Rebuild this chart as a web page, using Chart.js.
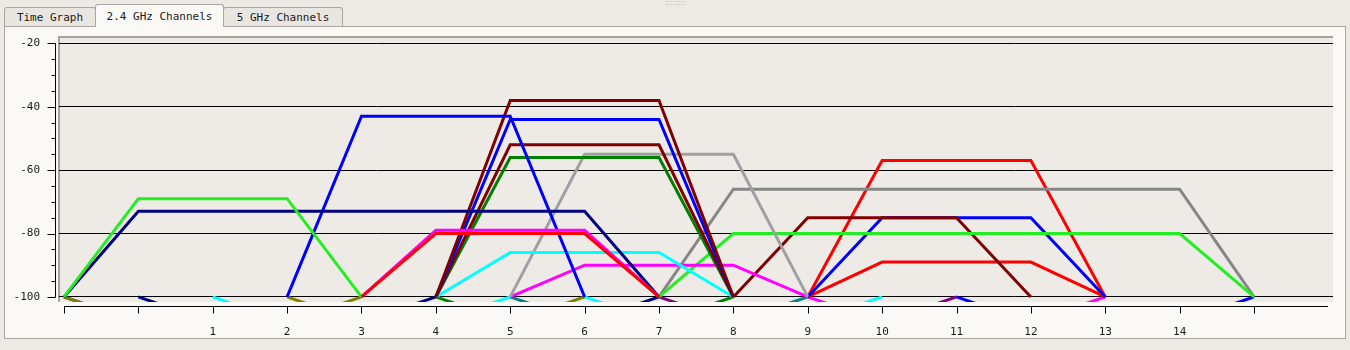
<!DOCTYPE html>
<html>
<head>
<meta charset="utf-8">
<script src="https://cdn.jsdelivr.net/npm/chart.js@4.4.1/dist/chart.umd.min.js"></script>
<style>
body{margin:0;width:1350px;height:350px;background:#edeae5;overflow:hidden;position:relative;
  font-family:"DejaVu Sans Mono",monospace;font-size:11px;color:#1a1a1a}
.panel{position:absolute;left:4px;top:26px;width:1342px;height:313px;box-sizing:border-box;
  background:#fbf9f6;border:1px solid #aaa6a1}
.tab{position:absolute;box-sizing:border-box;border:1px solid #aaa6a1;border-bottom:none;
  border-radius:3px 3px 0 0;background:#e9e6e1;text-align:center;white-space:nowrap}
.tab.on{background:#fbf9f6;z-index:2}
.grip{position:absolute;left:666px;top:1px;width:20px;height:2px;border-top:1px dotted #c9c5c0;border-bottom:1px dotted #c9c5c0}
#chart{position:absolute;left:0;top:0;z-index:3}
</style>
</head>
<body>
<div class="grip"></div>
<div class="panel"></div>
<div class="tab" style="left:4px;top:7px;width:92px;height:19px;line-height:19px">Time Graph</div>
<div class="tab on" style="left:95px;top:4px;width:129px;height:23px;line-height:23px">2.4 GHz Channels</div>
<div class="tab" style="left:223px;top:7px;width:120px;height:19px;line-height:19px">5 GHz Channels</div>
<canvas id="chart" width="1350" height="350"></canvas>
<script>
// 채널 축 / 신호 축 눈금
const channelTicks = [-1, 0, 1, 2, 3, 4, 5, 6, 7, 8, 9, 10, 11, 12, 13, 14, 15];
const signalTicks = [-100, -80, -60, -40, -20];

// 네트워크 : 중심 채널, 대역폭(MHz), 신호 세기(dBm)
const centers = [5, 5, 1, 3, 4, 6, 6, 6, 6, 6, 7, 7, 11, 11, 10, 11, 11, 11,
                 1, 3, 2, 3, 4, 6, 7, 8, 9, 11, 13];
const widths  = [20, 20, 20, 40, 20, 20, 20, 20, 20, 20, 20, 20, 40, 40, 20, 20, 20, 20,
                 20, 40, 20, 20, 20, 20, 20, 20, 20, 20, 20];
const signals = [-80, -79, -69, -73, -43, -38, -44, -52, -56, -86, -55, -90, -80, -66, -75, -75, -57, -89,
                 -108, -108, -108, -108, -108, -108, -108, -108, -108, -108, -108];

// 색상
const colors = ['#ff0000', '#ff00ff', '#22ee22', '#000080', '#0000ff', '#800000', '#0000ff', '#800000',
                '#008000', '#00ffff', '#a0a0a4', '#ff00ff', '#22ee22', '#868686', '#800000', '#0000ff',
                '#ff0000', '#ff0000',
                '#808000', '#000080', '#000080', '#00ffff', '#808000', '#008000', '#008080', '#00ffff',
                '#800080', '#ff00ff', '#0000ff'];

const FONT = "'DejaVu Sans Mono', monospace";
const FLOOR = -100;

// 사다리꼴 모양 : 가장자리는 -100, 윗변은 신호 세기
function shape(c, w, level) {
  const half = w === 40 ? 4 : 2;
  return [
    {x: c - half, y: FLOOR},
    {x: c - half + 1, y: level},
    {x: c + half - 1, y: level},
    {x: c + half, y: FLOOR}
  ];
}

const datasets = [];
for (let i = 0; i < centers.length; i++) {
  datasets.push({
    data: shape(centers[i], widths[i], signals[i]),
    borderColor: colors[i],
    borderWidth: 3,
    pointRadius: 0,
    tension: 0,
    fill: false
  });
}

// 플롯 배경, 테두리, 축선과 눈금
const frame = {
  id: 'frame',
  beforeDraw(chart) {
    const {ctx, chartArea: a} = chart;
    ctx.save();
    ctx.fillStyle = '#eeebe6';
    ctx.fillRect(a.left, a.top, a.right - a.left, a.bottom - a.top);
    ctx.fillStyle = '#a6a29d';
    ctx.fillRect(a.left - 1, a.top - 1, a.right - a.left + 1, 2);
    ctx.fillRect(a.left - 1, a.top - 1, 2, a.bottom - a.top + 1);
    ctx.restore();
  },
  afterDraw(chart) {
    const {ctx, chartArea: a} = chart;
    const xs = chart.scales.x, ys = chart.scales.y;
    ctx.save();
    ctx.strokeStyle = '#000';
    ctx.lineWidth = 1;
    ctx.beginPath();
    // y축
    const ax = a.left - 3.5;
    const yTop = Math.round(ys.getPixelForValue(-20)) + 0.5;
    const yBot = Math.round(ys.getPixelForValue(-100)) + 0.5;
    ctx.moveTo(ax, yTop);
    ctx.lineTo(ax, yBot);
    for (let v = -100; v <= -20; v += 5) {
      const len = v % 20 === 0 ? 8 : 4;
      const py = Math.round(ys.getPixelForValue(v)) + 0.5;
      ctx.moveTo(ax - len, py);
      ctx.lineTo(ax, py);
    }
    // x축
    const ay = a.bottom + 4.5;
    ctx.moveTo(Math.round(xs.getPixelForValue(-1)), ay);
    ctx.lineTo(Math.round(xs.getPixelForValue(16)), ay);
    channelTicks.forEach(v => {
      const px = Math.round(xs.getPixelForValue(v)) + 0.5;
      ctx.moveTo(px, ay);
      ctx.lineTo(px, ay + 7);
    });
    ctx.stroke();
    ctx.restore();
  }
};

const ctx = document.getElementById('chart');
new Chart(ctx, {
  type: 'line',
  data: {datasets: datasets},
  options: {
    responsive: false,
    animation: false,
    devicePixelRatio: 1,
    layout: {padding: {left: 0, top: 37, right: 17, bottom: 0}},
    plugins: {legend: {display: false}, tooltip: {enabled: false}},
    scales: {
      x: {
        type: 'linear',
        min: -1.067,
        max: 16.062,
        grid: {display: false},
        border: {display: false},
        afterFit(s) { s.height = 48; },
        afterBuildTicks(s) { s.ticks = channelTicks.map(v => ({value: v})); },
        ticks: {
          autoSkip: false, maxRotation: 0, padding: 16, color: '#1a1a1a',
          font: {family: FONT, size: 11},
          callback: v => (v >= 1 && v <= 14) ? String(v) : ''
        }
      },
      y: {
        min: -101.6,
        max: -18,
        grid: {color: '#000', lineWidth: 1, drawTicks: false},
        border: {display: false},
        afterFit(s) { s.width = 59; },
        afterBuildTicks(s) { s.ticks = signalTicks.map(v => ({value: v})); },
        ticks: {padding: 19, color: '#1a1a1a', font: {family: FONT, size: 11}}
      }
    }
  },
  plugins: [frame]
});
</script>
</body>
</html>
